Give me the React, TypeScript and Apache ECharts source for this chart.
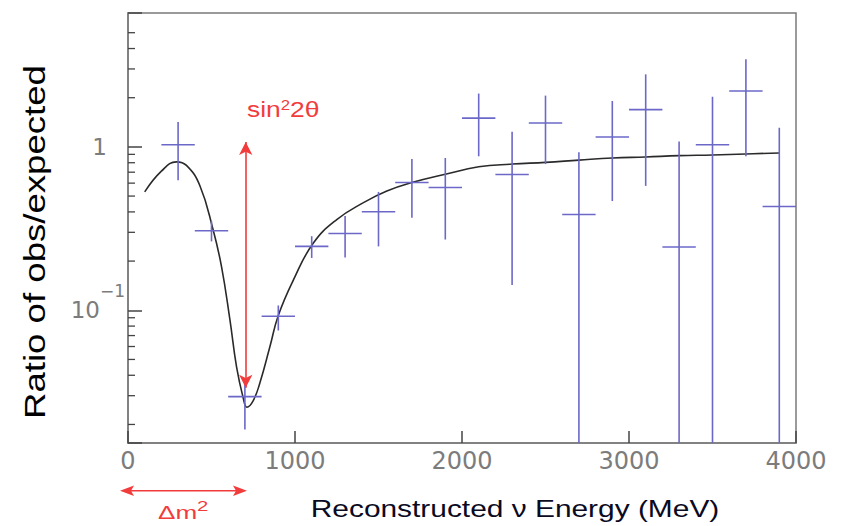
import React, { useEffect, useRef } from 'react';
import * as echarts from 'echarts';

// ---- Data: observed / expected ratio per reconstructed-energy bin ----
const binCenters = [300, 500, 700, 900, 1100, 1300, 1500, 1700, 1900, 2100, 2300, 2500, 2700, 2900, 3100, 3300, 3500, 3700, 3900];
const ratio = [1.03, 0.307, 0.0296, 0.092, 0.246, 0.295, 0.401, 0.605, 0.564, 1.5, 0.678, 1.4, 0.386, 1.15, 1.69, 0.244, 1.03, 2.2, 0.432];
const ratioHigh = [1.42, 0.351, 0.0361, 0.107, 0.284, 0.377, 0.53, 0.843, 0.855, 2.12, 1.24, 2.06, 0.927, 1.91, 2.78, 1.08, 2.03, 3.44, 1.31];
const ratioLow = [0.626, 0.264, 0.0186, 0.0752, 0.209, 0.21, 0.246, 0.368, 0.271, 0.876, 0.143, 0.785, 0.005, 0.466, 0.577, 0.005, 0.005, 0.876, 0.005];
const binHalfWidth = 100;

// ---- Oscillation expectation curve ----
const curveEnergy = [100, 200, 290, 350, 430, 510, 560, 610, 650, 690, 712, 750, 790, 850, 900, 990, 1110, 1250, 1410, 1550, 1700, 1900, 2100, 2300, 2500, 2700, 2900, 3100, 3300, 3500, 3700, 3900];
const curveRatio = [0.53, 0.71, 0.81, 0.77, 0.58, 0.31, 0.185, 0.088, 0.045, 0.029, 0.0255, 0.028, 0.036, 0.06, 0.093, 0.153, 0.258, 0.359, 0.456, 0.537, 0.605, 0.68, 0.755, 0.785, 0.804, 0.83, 0.855, 0.868, 0.884, 0.892, 0.905, 0.918];

// ---- Annotation (sin^2 2theta arrow) ----
const sinArrowEnergy = 705;
const sinArrowLow = 0.0335;
const sinArrowHigh = 1.07;

// ---- Axes ----
const xMin = 0;
const xMax = 4000;
const xInterval = 1000;
const yMin = 0.0154;
const yMax = 6.6;
const yLabelValues = [0.1, 1];
const yLabelBases = ['10', '1'];
const yLabelExps = ['\u22121', ''];
const yMinorTicks = [0.02, 0.03, 0.04, 0.05, 0.06, 0.07, 0.08, 0.09, 0.2, 0.3, 0.4, 0.5, 0.6, 0.7, 0.8, 0.9, 2, 3, 4, 5];

const xTitle = 'Reconstructed \u03bd Energy (MeV)';
const yTitle = 'Ratio of obs/expected';

const RED = '#f23c3c';
const ERR = '#6b68c8';
const LABEL = '#7c7c7c';
const FRAME = '#7a7a7a';
const TICK = '#444444';
const SANS = 'Liberation Sans, Arial, Helvetica, sans-serif';
const LBL_FONT = 'DejaVu Sans, sans-serif';

export default function App() {
  const ref = useRef<HTMLDivElement>(null);

  useEffect(() => {
    document.body.style.margin = '0';
    const chart = echarts.init(ref.current!, null, { renderer: 'svg' });

    const option: any = {
      animation: false,
      backgroundColor: '#ffffff',
      grid: {
        left: 128,
        right: 48,
        top: 13,
        bottom: 83,
        show: true,
        borderColor: FRAME,
        borderWidth: 1.5,
        backgroundColor: 'transparent',
      },
      xAxis: {
        type: 'value',
        min: xMin,
        max: xMax,
        interval: xInterval,
        axisLine: { show: true, lineStyle: { color: FRAME, width: 1.5 } },
        axisTick: { show: true, inside: true, length: 12, lineStyle: { color: TICK, width: 1.5 } },
        axisLabel: {
          margin: 6,
          fontFamily: LBL_FONT,
          fontSize: 24,
          color: LABEL,
          formatter: (v: number) => String(v),
        },
        splitLine: { show: false },
      },
      yAxis: {
        type: 'log',
        logBase: 10,
        min: yMin,
        max: yMax,
        axisLine: { show: true, lineStyle: { color: FRAME, width: 1.5 } },
        axisTick: { show: true, inside: true, length: 14, lineStyle: { color: TICK, width: 1.5 } },
        splitLine: { show: false },
        minorTick: { show: false },
        axisLabel: {
          margin: 3,
          color: LABEL,
          fontFamily: LBL_FONT,
          formatter: (v: number) => {
            const i = yLabelValues.findIndex((t) => Math.abs(v - t) / t < 1e-6);
            if (i < 0) return '';
            if (yLabelExps[i]) return `{b|${yLabelBases[i]}}{s|${yLabelExps[i]}}`;
            return `{one|${yLabelBases[i]}}`;
          },
          rich: {
            b: { fontFamily: LBL_FONT, fontSize: 23, color: LABEL, lineHeight: 56, verticalAlign: 'middle' },
            s: { fontFamily: LBL_FONT, fontSize: 17, color: LABEL, lineHeight: 17, verticalAlign: 'top' },
            one: { fontFamily: LBL_FONT, fontSize: 23, color: LABEL, lineHeight: 23, padding: [0, 18, 0, 0] },
          },
        },
      },
      series: [
        {
          type: 'line',
          data: curveEnergy.map((x, i) => [x, curveRatio[i]]),
          smooth: 0.45,
          showSymbol: false,
          symbol: 'none',
          silent: true,
          lineStyle: { color: '#2a2a2a', width: 1.6 },
          emphasis: { disabled: true },
          z: 2,
          markLine: {
            silent: true,
            symbol: ['arrow', 'arrow'],
            symbolSize: [10, 13],
            label: { show: false },
            emphasis: { disabled: true },
            lineStyle: { color: RED, width: 1.6, type: 'solid' },
            data: [[{ coord: [sinArrowEnergy, sinArrowLow] }, { coord: [sinArrowEnergy, sinArrowHigh] }]],
          },
        },
        {
          type: 'custom',
          silent: true,
          z: 3,
          data: binCenters.map((x, i) => [x, ratio[i], ratioLow[i], ratioHigh[i]]),
          encode: { x: 0, y: 1 },
          renderItem: (params: any, api: any) => {
            const x = api.value(0);
            const y = api.value(1);
            const lo = api.value(2);
            const hi = api.value(3);
            const cs = params.coordSys;
            const c = api.coord([x, y]);
            const l = api.coord([Math.max(x - binHalfWidth, xMin), y]);
            const r = api.coord([Math.min(x + binHalfWidth, xMax), y]);
            const t = api.coord([x, hi]);
            const b = api.coord([x, lo]);
            const topY = Math.max(t[1], cs.y);
            const botY = Math.min(b[1], cs.y + cs.height);
            const style = { stroke: ERR, lineWidth: 1.6 };
            return {
              type: 'group',
              children: [
                { type: 'line', shape: { x1: l[0], y1: c[1], x2: r[0], y2: c[1] }, style },
                { type: 'line', shape: { x1: c[0], y1: topY, x2: c[0], y2: botY }, style },
              ],
            };
          },
        },
        {
          type: 'custom',
          silent: true,
          z: 4,
          data: yMinorTicks.map((v) => [xMin, v]),
          encode: { x: 0, y: 1 },
          renderItem: (params: any, api: any) => {
            const cs = params.coordSys;
            const p = api.coord([xMin, api.value(1)]);
            return {
              type: 'line',
              shape: { x1: cs.x, y1: p[1], x2: cs.x + 7, y2: p[1] },
              style: { stroke: TICK, lineWidth: 1.3 },
            };
          },
        },
      ],
      graphic: [
        {
          type: 'text',
          x: 35,
          y: 242,
          rotation: Math.PI / 2,
          scaleX: 1.22,
          silent: true,
          style: {
            text: yTitle,
            fontSize: 30,
            fontFamily: SANS,
            fill: '#000000',
            align: 'center',
            verticalAlign: 'middle',
            textAlign: 'center',
            textVerticalAlign: 'middle',
          },
        },
        {
          type: 'text',
          x: 515,
          y: 509,
          scaleX: 1.3,
          silent: true,
          style: {
            text: xTitle,
            fontSize: 23,
            fontFamily: SANS,
            fill: '#0a0a22',
            align: 'center',
            verticalAlign: 'middle',
            textAlign: 'center',
            textVerticalAlign: 'middle',
          },
        },
        {
          type: 'text',
          x: 247,
          y: 109,
          scaleX: 1.2,
          silent: true,
          style: {
            text: '{a|sin}{s|2}{a|2\u03b8}',
            align: 'left',
            verticalAlign: 'middle',
            textAlign: 'left',
            textVerticalAlign: 'middle',
            rich: {
              a: { fontSize: 22, fontFamily: SANS, fill: RED, lineHeight: 22, verticalAlign: 'top' },
              s: { fontSize: 14, fontFamily: SANS, fill: RED, lineHeight: 14, verticalAlign: 'top' },
            },
          },
        },
        {
          type: 'text',
          x: 158,
          y: 513,
          scaleX: 1.45,
          silent: true,
          style: {
            text: '\u0394m',
            fontSize: 18,
            fontFamily: SANS,
            fill: RED,
            align: 'left',
            verticalAlign: 'middle',
            textAlign: 'left',
            textVerticalAlign: 'middle',
          },
        },
        {
          type: 'text',
          x: 197,
          y: 506,
          scaleX: 1.45,
          silent: true,
          style: {
            text: '2',
            fontSize: 14,
            fontFamily: SANS,
            fill: RED,
            align: 'left',
            verticalAlign: 'middle',
            textAlign: 'left',
            textVerticalAlign: 'middle',
          },
        },
        {
          type: 'line',
          silent: true,
          shape: { x1: 130, y1: 490.7, x2: 237, y2: 490.7 },
          style: { stroke: RED, lineWidth: 1.6 },
        },
        {
          type: 'polygon',
          silent: true,
          shape: { points: [[120, 490.7], [134, 485.5], [131, 490.7], [134, 496]] },
          style: { fill: RED },
        },
        {
          type: 'polygon',
          silent: true,
          shape: { points: [[247, 490.7], [233, 485.5], [236, 490.7], [233, 496]] },
          style: { fill: RED },
        },
      ],
    };

    chart.setOption(option);
    return () => chart.dispose();
  }, []);

  return <div ref={ref} style={{ position: 'absolute', left: 0, top: 0, width: 844, height: 526 }} />;
}
